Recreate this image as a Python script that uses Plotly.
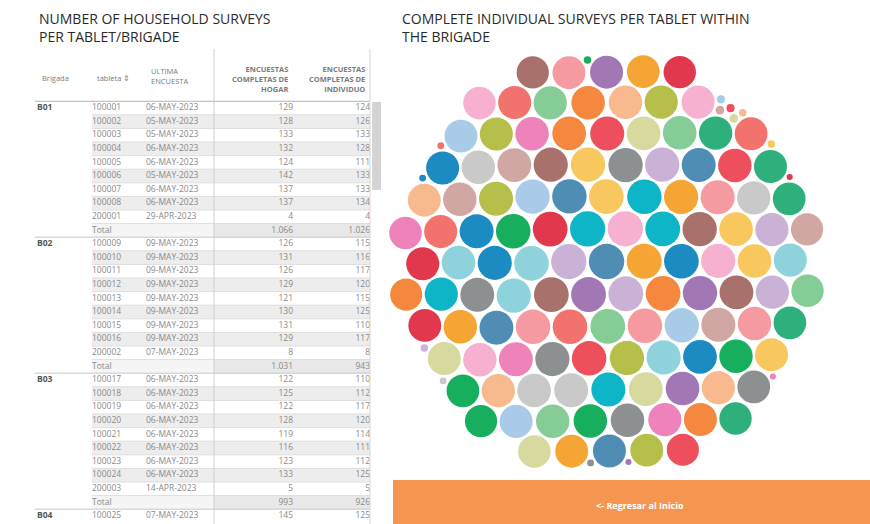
import numpy as np
import plotly.graph_objects as go

# ------------------------------------------------------------------ data
brigadas = ["B01", "B02", "B03", "B04"]
tabletas = [
    ["100001", "100002", "100003", "100004", "100005", "100006", "100007", "100008", "200001"],
    ["100009", "100010", "100011", "100012", "100013", "100014", "100015", "100016", "200002"],
    ["100017", "100018", "100019", "100020", "100021", "100022", "100023", "100024", "200003"],
    ["100025"],
]
fechas = [
    ["06-MAY-2023", "05-MAY-2023", "05-MAY-2023", "06-MAY-2023", "06-MAY-2023",
     "05-MAY-2023", "06-MAY-2023", "06-MAY-2023", "29-APR-2023"],
    ["09-MAY-2023"] * 8 + ["07-MAY-2023"],
    ["06-MAY-2023"] * 8 + ["14-APR-2023"],
    ["07-MAY-2023"],
]
hogar = [
    [129, 128, 133, 132, 124, 142, 137, 137, 4],
    [126, 131, 126, 129, 121, 130, 131, 129, 8],
    [122, 125, 122, 128, 119, 116, 123, 133, 5],
    [145],
]
individuo = [
    [124, 126, 133, 128, 111, 133, 133, 134, 4],
    [115, 116, 117, 120, 115, 125, 110, 117, 8],
    [110, 112, 117, 120, 114, 111, 112, 125, 5],
    [125],
]
# individual surveys of the brigades not visible in the table
individuo_resto = [
    [125, 118, 121, 114, 127, 119, 123, 116, 6],   # B04
    [122, 128, 113, 119, 131, 117, 124, 120, 7],   # B05
    [115, 126, 121, 112, 129, 118, 125, 122, 5],   # B06
    [130, 116, 119, 124, 113, 127, 121, 118, 8],   # B07
    [117, 123, 128, 115, 120, 126, 111, 124, 4],   # B08
    [126, 119, 114, 122, 129, 117, 123, 120, 6],   # B09
    [121, 127, 118, 125, 116, 130, 119, 113, 5],   # B10
    [118, 124, 120, 129, 115, 122, 127, 117, 7],   # B11
    [123, 116, 126, 119, 121, 128, 114, 125, 6],   # B12
    [120, 129, 117, 123, 126, 118, 122, 115, 4],   # B13
    [127, 114, 122, 118, 124, 120, 129, 116, 5],   # B14
    [119, 125, 121, 128, 117, 123, 118, 126, 6],   # B15
]

titulo_tabla = "NUMBER OF HOUSEHOLD SURVEYS<br>PER TABLET/BRIGADE"
titulo_burbujas = "COMPLETE INDIVIDUAL SURVEYS PER TABLET WITHIN<br>THE BRIGADE"
boton = "<- Regresar al Inicio"

# ------------------------------------------------------------------ style
palette = ["#1B8BC2", "#F4883E", "#17AE5E", "#E2384E", "#A177B6", "#A8716B", "#EE82BA",
           "#8C9091", "#B6BF4A", "#0DB5C6", "#A9CBE8", "#F8B98E", "#86CC96", "#F59AA0",
           "#C9B2D6", "#D0A7A2", "#F5B1CF", "#C9C9C9", "#D7D99E", "#8ED3DC", "#F5A533",
           "#F8C75E", "#ED4F5C", "#4F8DB5", "#2EB07C", "#F2736E"]
FONT = "Open Sans"
TXT = "#8a8a8a"
ROW0, ROWH = 108.0, 13.6
X_BRIG, X_TAB, X_FECHA, X_HOG, X_IND = 40, 95, 149, 290, 367
X_L, X_DIM, X_R = 35, 92, 370
X_SEP = 214

fig = go.Figure()
shapes = []
ann = []


def fmt(n):
    return f"{n:,}".replace(",", ".")


# ------------------------------------------------------------------ table rows
rows = []
for b, brig in enumerate(brigadas):
    for k in range(len(tabletas[b])):
        rows.append(dict(kind="data", k=k, brig=f"<b>{brig}</b>" if k == 0 else "",
                         tab=tabletas[b][k], fecha=fechas[b][k],
                         hog=fmt(hogar[b][k]), ind=fmt(individuo[b][k]), first=(k == 0)))
    if len(tabletas[b]) == 9:
        rows.append(dict(kind="total", k=9, brig="", tab="Total", fecha="",
                         hog=fmt(sum(hogar[b])), ind=fmt(sum(individuo[b])), first=False))

ys = [ROW0 + ROWH * i for i in range(len(rows))]

for r, y in zip(rows, ys):
    top, bot = y - ROWH / 2, y + ROWH / 2
    if r["kind"] == "data" and r["k"] % 2 == 1:
        shapes.append(dict(type="rect", x0=X_DIM, x1=X_R, y0=top, y1=bot,
                           fillcolor="#ededed", line_width=0, layer="below"))
    if r["kind"] == "total":
        shapes.append(dict(type="rect", x0=X_DIM, x1=X_SEP, y0=top, y1=bot,
                           fillcolor="#f5f5f5", line_width=0, layer="below"))
        shapes.append(dict(type="rect", x0=X_SEP, x1=X_R, y0=top, y1=bot,
                           fillcolor="#e8e8e8", line_width=0, layer="below"))
    if r["first"]:
        shapes.append(dict(type="line", x0=X_L, x1=X_R, y0=top, y1=top,
                           line=dict(color="#c8c8c8", width=1)))
    else:
        shapes.append(dict(type="line", x0=X_DIM, x1=X_R, y0=top, y1=top,
                           line=dict(color="#dedede", width=1)))


def text_col(x, key, pos, color=TXT, size=8.5):
    fig.add_trace(go.Scatter(
        x=[x] * len(rows), y=ys, mode="text", text=[r[key] for r in rows],
        textposition=pos, textfont=dict(family=FONT, size=size, color=color),
        hoverinfo="skip", showlegend=False, cliponaxis=False))


text_col(X_BRIG - 3, "brig", "middle right", color="#555555")
text_col(X_TAB - 3, "tab", "middle right")
text_col(X_FECHA - 3, "fecha", "middle right")
text_col(X_HOG + 3, "hog", "middle left")
text_col(X_IND + 3, "ind", "middle left")

# header
hdr = dict(family=FONT, size=7.5, color="#7a7a7a")
ann += [
    dict(x=X_BRIG, y=78, text="Brigada", xanchor="left", yanchor="middle", showarrow=False, font=hdr),
    dict(x=X_TAB, y=78, text="tableta ⇕", xanchor="left", yanchor="middle", showarrow=False, font=hdr),
    dict(x=X_FECHA, y=76, text="ULTIMA<br>ENCUESTA", xanchor="left", yanchor="middle",
         align="left", showarrow=False, font=hdr),
    dict(x=X_HOG, y=79, text="<b>ENCUESTAS<br>COMPLETAS DE<br>HOGAR</b>", xanchor="right",
         yanchor="middle", align="right", showarrow=False, font=hdr),
    dict(x=X_IND, y=79, text="<b>ENCUESTAS<br>COMPLETAS DE<br>INDIVIDUO</b>", xanchor="right",
         yanchor="middle", align="right", showarrow=False, font=hdr),
]
shapes += [
    dict(type="line", x0=X_L, x1=X_R, y0=101.5, y1=101.5, line=dict(color="#c4c4c4", width=1)),
    dict(type="line", x0=X_SEP, x1=X_SEP, y0=49, y1=524, line=dict(color="#cfcfcf", width=1)),
    dict(type="line", x0=X_R, x1=X_R, y0=49, y1=524, line=dict(color="#d6d6d6", width=1)),
    dict(type="rect", x0=372, x1=381, y0=102, y1=190, fillcolor="#d4d4d4", line_width=0),
]

# titles
ann += [
    dict(x=37, y=27, text=titulo_tabla, xanchor="left", yanchor="middle", align="left",
         showarrow=False, font=dict(family=FONT, size=14, color="#2a2a2a")),
    dict(x=400, y=27, text=titulo_burbujas, xanchor="left", yanchor="middle", align="left",
         showarrow=False, font=dict(family=FONT, size=14, color="#2a2a2a")),
]

# ------------------------------------------------------------------ bubbles (packed layout)
vals_bub = []
for b in range(3):
    vals_bub += individuo[b]
for lst in individuo_resto:
    vals_bub += lst
vals_bub = np.array(vals_bub, dtype=float)
n = len(vals_bub)
colors = [palette[(i * 7) % len(palette)] for i in range(n)]
radii = 1.53 * np.sqrt(vals_bub)
GAP = 2.4


def pack(radii):
    order = np.argsort(-radii, kind="stable")
    P = np.zeros((0, 2))
    R = np.zeros(0)
    pos = np.zeros((len(radii), 2))
    for idx in order:
        r = radii[idx]
        m = len(R)
        if m == 0:
            c = np.array([0.0, 0.0])
        elif m == 1:
            c = np.array([-(R[0] + r + GAP), 0.0])
        else:
            A = R + r + GAP
            diff = P[None, :, :] - P[:, None, :]
            D = np.hypot(diff[..., 0], diff[..., 1])
            mask = np.triu(D < (A[:, None] + A[None, :]), 1) & (D > 0)
            ii, jj = np.where(mask)
            d = D[ii, jj]
            a = (A[ii] ** 2 - A[jj] ** 2 + d ** 2) / (2 * d)
            h = np.sqrt(np.clip(A[ii] ** 2 - a ** 2, 0, None))
            u = (P[jj] - P[ii]) / d[:, None]
            base = P[ii] + a[:, None] * u
            perp = np.stack([-u[:, 1], u[:, 0]], axis=1)
            cands = np.vstack([base + h[:, None] * perp, base - h[:, None] * perp])
            dd = np.hypot(cands[:, None, 0] - P[None, :, 0], cands[:, None, 1] - P[None, :, 1])
            ok = np.all(dd >= A[None, :] - 1e-6, axis=1)
            cands = cands[ok]
            c = cands[np.argmin(np.hypot(cands[:, 0], cands[:, 1]))]
        pos[idx] = c
        P = np.vstack([P, c])
        R = np.append(R, r)
    return pos


pos = pack(radii)
CX, CY = 606.5, 261.5
x0, x1 = (pos[:, 0] - radii).min(), (pos[:, 0] + radii).max()
y0, y1 = (pos[:, 1] - radii).min(), (pos[:, 1] + radii).max()
px = pos[:, 0] - (x0 + x1) / 2 + CX
py = pos[:, 1] - (y0 + y1) / 2 + CY

fig.add_trace(go.Scatter(
    x=px, y=py, mode="markers",
    marker=dict(size=2 * radii, color=colors, line=dict(width=0), opacity=1),
    hoverinfo="skip", showlegend=False, cliponaxis=False))

# button
shapes.append(dict(type="rect", x0=393, x1=870, y0=480, y1=524, fillcolor="#F4964F",
                   line_width=0, layer="below"))
ann.append(dict(x=640, y=505, text="<b>" + boton + "</b>", showarrow=False,
                font=dict(family=FONT, size=9, color="#ffffff")))

fig.update_layout(
    width=870, height=524, margin=dict(l=0, r=0, t=0, b=0),
    paper_bgcolor="#ffffff", plot_bgcolor="#ffffff",
    xaxis=dict(range=[0, 870], visible=False, fixedrange=True),
    yaxis=dict(range=[524, 0], visible=False, fixedrange=True),
    shapes=shapes, annotations=ann, showlegend=False,
)
fig.write_html("out.html", config={"displayModeBar": False},
               post_script="document.body.style.margin='0';")
